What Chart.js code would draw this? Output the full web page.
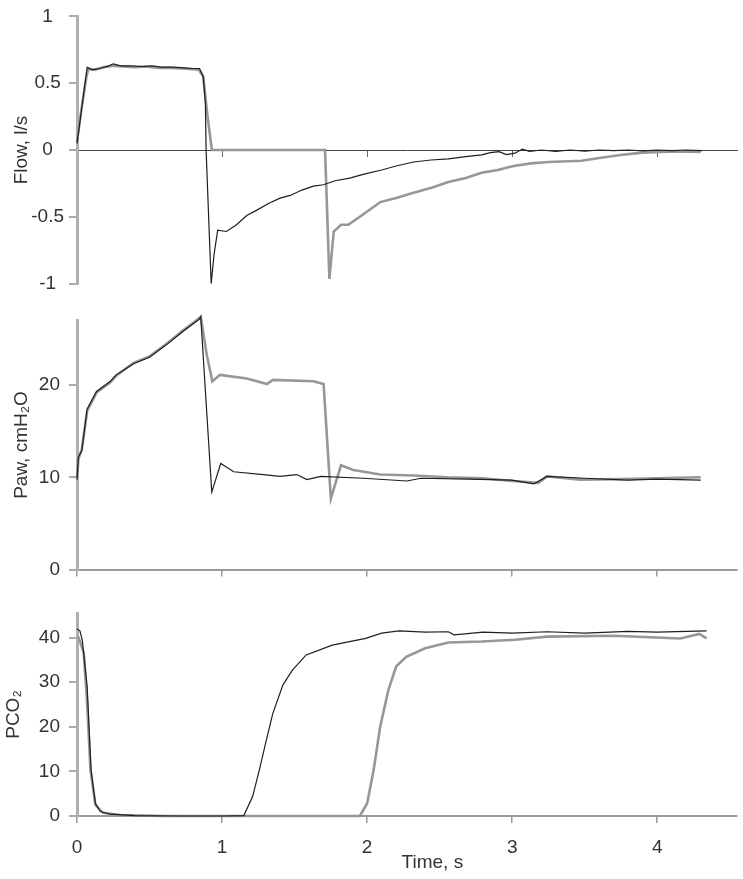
<!DOCTYPE html>
<html>
<head>
<meta charset="utf-8">
<script src="https://cdn.jsdelivr.net/npm/chart.js@4.4.1/dist/chart.umd.min.js"></script>
<style>
body{margin:0;background:#fff;}
#wrap{position:relative;width:743px;height:879px;}
canvas{position:absolute;left:0;}
</style>
</head>
<body>
<div id="wrap">
<canvas id="flowChart" width="743" height="300" style="top:0"></canvas>
<canvas id="pawChart" width="743" height="290" style="top:300px"></canvas>
<canvas id="co2Chart" width="743" height="289" style="top:590px"></canvas>
</div>
<script>
// time (s) and values; black = thin trace, grey = thick trace
const flowBlackT=[0,0.03,0.07,0.10,0.16,0.22,0.25,0.30,0.37,0.45,0.52,0.58,0.66,0.74,0.80,0.845,0.87,0.885,0.89,0.925,0.945,0.97,1.03,1.10,1.17,1.24,1.32,1.40,1.47,1.55,1.63,1.70,1.78,1.88,1.98,2.10,2.20,2.32,2.44,2.56,2.68,2.79,2.85,2.91,2.96,3.02,3.07,3.12,3.20,3.30,3.40,3.50,3.60,3.70,3.80,3.90,4.00,4.10,4.20,4.31];
const flowBlackV=[0.05,0.29,0.62,0.60,0.61,0.63,0.645,0.63,0.63,0.625,0.63,0.62,0.62,0.615,0.61,0.61,0.55,0.35,0.0,-1.0,-0.78,-0.60,-0.61,-0.56,-0.49,-0.45,-0.40,-0.36,-0.34,-0.30,-0.27,-0.26,-0.23,-0.21,-0.18,-0.15,-0.12,-0.09,-0.075,-0.066,-0.05,-0.037,-0.02,-0.012,-0.035,-0.024,0.007,-0.01,0.0,-0.01,0.0,-0.008,0.0,-0.005,0.0,-0.006,0.0,-0.005,0.0,-0.005];
const flowGreyT=[0,0.03,0.065,0.08,0.12,0.18,0.25,0.32,0.40,0.48,0.56,0.64,0.72,0.80,0.84,0.87,0.90,0.93,1.20,1.50,1.71,1.74,1.77,1.82,1.87,1.95,2.09,2.20,2.32,2.45,2.56,2.68,2.79,2.90,3.01,3.13,3.25,3.48,3.60,3.76,3.90,4.03,4.15,4.30];
const flowGreyV=[0.06,0.30,0.55,0.61,0.60,0.62,0.63,0.625,0.62,0.625,0.615,0.615,0.61,0.605,0.60,0.55,0.25,0.0,0.0,0.0,0.0,-0.965,-0.61,-0.56,-0.56,-0.50,-0.39,-0.36,-0.32,-0.28,-0.24,-0.21,-0.17,-0.15,-0.12,-0.10,-0.09,-0.08,-0.06,-0.035,-0.02,-0.015,-0.01,-0.015];

const pawBlackT=[0,0.01,0.033,0.07,0.135,0.23,0.27,0.39,0.50,0.62,0.73,0.84,0.853,0.929,0.991,1.08,1.285,1.40,1.515,1.585,1.68,1.975,2.275,2.37,2.7,3.0,3.15,3.24,3.5,3.8,4.0,4.3];
const pawBlackV=[9.75,12.2,12.9,17.4,19.3,20.4,21.1,22.3,23.0,24.4,25.8,27.1,27.4,8.4,11.5,10.6,10.3,10.1,10.3,9.75,10.1,9.9,9.6,9.9,9.8,9.7,9.3,10.1,9.9,9.7,9.8,9.7];
const pawGreyT=[0,0.01,0.033,0.07,0.135,0.23,0.27,0.39,0.50,0.62,0.73,0.84,0.853,0.894,0.933,0.986,1.17,1.31,1.35,1.63,1.70,1.75,1.82,1.905,2.09,2.32,2.55,2.8,3.0,3.18,3.24,3.47,3.75,4.0,4.3];
const pawGreyV=[9.9,12.0,13.0,17.2,19.2,20.3,21.0,22.4,23.1,24.5,25.9,27.2,27.4,23.3,20.4,21.1,20.7,20.1,20.55,20.4,20.1,7.7,11.3,10.8,10.3,10.2,10.0,9.9,9.6,9.4,10.1,9.75,9.8,9.9,10.0];

const co2BlackT=[0,0.02,0.036,0.07,0.097,0.127,0.16,0.23,0.40,0.70,1.00,1.15,1.21,1.257,1.30,1.35,1.42,1.485,1.58,1.76,1.99,2.10,2.22,2.40,2.56,2.60,2.80,3.00,3.24,3.50,3.80,4.00,4.34];
const co2BlackV=[41.9,41.5,39.5,29,10.3,2.8,1.0,0.4,0.1,0,0,0.1,4.3,10.3,16.3,23,29.4,32.7,36.1,38.3,39.8,41.0,41.5,41.2,41.3,40.6,41.2,41.0,41.3,41.0,41.4,41.2,41.5];
const co2GreyT=[0,0.012,0.047,0.07,0.093,0.127,0.18,0.30,0.60,1.00,1.50,1.70,1.95,2.00,2.045,2.09,2.147,2.20,2.27,2.40,2.56,2.79,3.02,3.24,3.70,4.16,4.29,4.34];
const co2GreyV=[40.2,40.0,36.5,25.3,10.3,2.5,0.7,0.2,0,0,0,0,0,2.8,10.3,20,28.3,33.5,35.7,37.6,38.9,39.1,39.5,40.2,40.4,39.8,40.8,39.8];

const xTicks=[0,1,2,3,4];
const flowTicks=[-1,-0.5,0,0.5,1];
const pawTicks=[0,10,20];
const co2Ticks=[0,10,20,30,40];

Chart.defaults.font.family="'Liberation Sans', Arial, sans-serif";
Chart.defaults.font.size=19;
Chart.defaults.color='#333';

function pts(t,v){return t.map((x,i)=>({x:x,y:v[i]}));}

function series(t,v,grey){
return{
data:pts(t,v),
borderColor:grey?'#979797':'#1e1e1e',
borderWidth:grey?2.6:1.2,
pointRadius:0,
tension:0,
fill:false,
clip:false
};
}

function keepTicks(list){
return function(scale){scale.ticks=list.map(v=>({value:v}));};
}

function plainLabel(v){return String(v);}

function xAxis(extra){
return Object.assign({
type:'linear',min:0,max:4.55,
afterBuildTicks:keepTicks(xTicks),
ticks:{display:false},
grid:{drawOnChartArea:false,tickLength:7,color:'#9a9a9a',lineWidth:1.5},
border:{color:'#9a9a9a',width:2}
},extra);
}

function yAxis(min,max,tickList,title,titlePad,extraTicks){
return{
min:min,max:max,
afterBuildTicks:keepTicks(tickList),
afterFit:function(s){s.width=77;},
ticks:Object.assign({padding:9,callback:plainLabel},extraTicks||{}),
grid:{drawOnChartArea:false,tickLength:8,color:'#aaa',lineWidth:2},
border:{color:'#b0b0b0',width:3},
title:{display:true,text:title,padding:{top:titlePad,bottom:0}}
};
}

const baseOpts={
responsive:false,
animation:false,
events:[],
plugins:{legend:{display:false},tooltip:{enabled:false}}
};

new Chart(document.getElementById('flowChart'),{
type:'line',
data:{datasets:[series(flowBlackT,flowBlackV,false),series(flowGreyT,flowGreyV,true)]},
options:Object.assign({},baseOpts,{
layout:{padding:{top:13,bottom:14,left:0,right:6}},
scales:{
x:xAxis({position:{y:0},afterFit:function(s){s.height=0;},
grid:{drawOnChartArea:false,tickLength:6,color:'#666',lineWidth:1},
border:{color:'#444',width:1}}),
y:yAxis(-1,1,flowTicks,'Flow, l/s',10.5,{padding:5,crossAlign:'center'})
}
})
});

new Chart(document.getElementById('pawChart'),{
type:'line',
data:{datasets:[series(pawBlackT,pawBlackV,false),series(pawGreyT,pawGreyV,true)]},
options:Object.assign({},baseOpts,{
layout:{padding:{top:12,bottom:0,left:0,right:6}},
scales:{
x:xAxis({position:'bottom',afterFit:function(s){s.height=20;}}),
y:yAxis(0,27,pawTicks,'Paw, cmH\u2082O',10.5)
}
})
});

const timeTitle={
id:'timeTitle',
afterDraw(chart){
const xs=chart.scales.x;
const c=chart.ctx;
c.save();
c.font="19px 'Liberation Sans', Arial, sans-serif";
c.fillStyle='#333';
c.textAlign='center';
c.textBaseline='middle';
c.fillText('Time, s',xs.getPixelForValue(2.45),xs.bottom-16);
c.restore();
}
};

new Chart(document.getElementById('co2Chart'),{
type:'line',
data:{datasets:[series(co2BlackT,co2BlackV,false),series(co2GreyT,co2GreyV,true)]},
options:Object.assign({},baseOpts,{
layout:{padding:{top:23,bottom:0,left:0,right:6}},
scales:{
x:xAxis({position:'bottom',afterFit:function(s){s.height=63;},
ticks:{display:true,padding:13}}),
y:yAxis(0,45.5,co2Ticks,'PCO\u2082',2.5)
}
}),
plugins:[timeTitle]
});
</script>
</body>
</html>
